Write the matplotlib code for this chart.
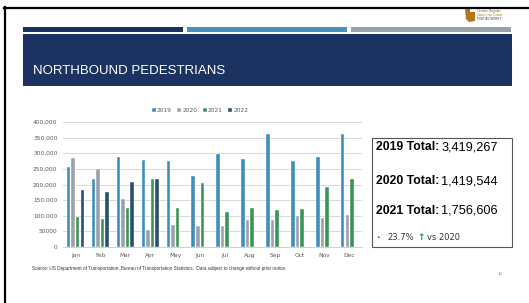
import matplotlib
matplotlib.use("Agg")
import matplotlib.pyplot as plt
from matplotlib.patches import Rectangle, Polygon
from matplotlib.lines import Line2D
import numpy as np

months = ["Jan", "Feb", "Mar", "Apr", "May", "Jun", "Jul", "Aug", "Sep", "Oct", "Nov", "Dec"]
years = ["2019", "2020", "2021", "2022"]
v2019 = [257000, 219000, 287000, 278000, 276000, 226000, 299000, 282000, 361000, 275000, 288000, 363000]
v2020 = [286000, 250000, 155000, 54000, 71000, 66000, 66000, 87000, 85000, 100000, 94000, 101000]
v2021 = [97000, 91000, 125000, 219000, 125000, 206000, 112000, 126000, 117000, 122000, 193000, 219000]
v2022 = [182000, 175000, 208000, 217000]
ytick_vals = [0, 50000, 100000, 150000, 200000, 250000, 300000, 350000, 400000]
ytick_labels = ["0", "50000", "100,000", "150,000", "200,000", "250,000", "300,000", "350,000", "400,000"]
totals = [("2019 Total:", "3,419,267"), ("2020 Total:", "1,419,544"), ("2021 Total:", "1,756,606")]

colors = ["#3d8dbd", "#9aa1a8", "#3a9358", "#284f6b"]

W, H = 529, 303
fig = plt.figure(figsize=(W / 100, H / 100), dpi=100)
fig.patch.set_facecolor("white")

def fx(x):
    return x / W

def fy(y):
    return 1 - y / H

# outer border
fig.add_artist(Line2D([fx(4.5), fx(4.5)], [fy(7), fy(303)], color="black", lw=1.6))
fig.add_artist(Line2D([fx(4), fx(529)], [fy(7.5), fy(7.5)], color="black", lw=1.6))

# stripes
stripes = [(22.7, 182.7, "#1c3260"), (186.7, 346.7, "#4a90b8"), (350.7, 510.7, "#9aa0a8")]
for x0, x1, c in stripes:
    fig.add_artist(Rectangle((fx(x0), fy(32)), fx(x1 - x0), 5 / H, color=c, lw=0))

# title band
fig.add_artist(Rectangle((fx(22.7), fy(86)), fx(511.7 - 22.7), (86 - 34.3) / H, color="#1c3260", lw=0))
fig.text(fx(33), fy(70.5), "NORTHBOUND PEDESTRIANS", color="white", fontsize=9.5,
         family="Liberation Sans", va="center", ha="left")

# logo
fig.add_artist(Polygon([[fx(465), fy(9)], [fx(470), fy(9)], [fx(470), fy(12)], [fx(475), fy(12)],
                        [fx(475), fy(21)], [fx(469), fy(22)], [fx(466), fy(19)]],
                       closed=True, color="#b8741a", lw=0))
fig.text(fx(477), fy(11), "Greater Nogales", fontsize=2.6, color="#555555", family="Liberation Serif", va="center")
fig.text(fx(477), fy(15), "Santa Cruz County", fontsize=2.4, color="#b8741a", family="Liberation Serif", va="center")
fig.text(fx(477), fy(19), "PORT AUTHORITY", fontsize=2.0, color="#333333", family="Liberation Sans", va="center")

# chart axes
ax_l, ax_r, ax_t, ax_b = 63, 362, 122, 247
ax = fig.add_axes([fx(ax_l), fy(ax_b), fx(ax_r - ax_l), (ax_b - ax_t) / H])
ax.set_facecolor("none")
x = np.arange(len(months))
pitch = 0.183
bw = 0.14
series = [v2019, v2020, v2021, v2022]
for i, (vals, c, lab) in enumerate(zip(series, colors, years)):
    xs = x[:len(vals)] + (i - 1.5) * pitch
    ax.bar(xs, vals, width=bw, color=c, edgecolor="white", linewidth=0.3, label=lab, zorder=3)

ax.set_xlim(-0.5, 11.5)
ax.set_ylim(0, 400000)
ax.set_yticks(ytick_vals)
ax.set_yticklabels(ytick_labels)
ax.set_xticks(x)
ax.set_xticklabels(months)
ax.tick_params(axis="both", length=0, labelsize=4.2, colors="#595959", pad=4)
ax.grid(axis="y", color="#d9d9d9", lw=0.7, zorder=0)
for s in ["top", "right", "left"]:
    ax.spines[s].set_visible(False)
ax.spines["bottom"].set_color("#d0d0d0")
ax.spines["bottom"].set_linewidth(0.7)

leg = fig.legend(loc="center", bbox_to_anchor=(fx(200), fy(110.7)), ncol=4, frameon=False,
                 fontsize=4.2, handlelength=0.7, handleheight=0.7, handletextpad=0.2,
                 columnspacing=0.9, labelcolor="#595959")

# totals box
fig.add_artist(Rectangle((fx(371.7), fy(247)), fx(511.7 - 371.7), (247 - 138.3) / H,
                         fill=False, edgecolor="#555555", lw=0.8))
ys = [147, 181, 210.5]
for (lab, val), yy in zip(totals, ys):
    t = fig.text(fx(375.5), fy(yy), lab, fontsize=8.8, weight="bold", family="Liberation Sans",
                 va="center", ha="left", color="black")
    fig.canvas.draw()
    bb = t.get_window_extent()
    fig.text(bb.x1 / W + fx(2.5), fy(yy), val, fontsize=9.2, family="Liberation Sans",
             va="center", ha="left", color="black")

fig.text(fx(376), fy(237.5), "•", fontsize=4.5, va="center", ha="left", color="#333333")
t1 = fig.text(fx(387.5), fy(237.5), "23.7%", fontsize=6.0, family="DejaVu Sans", va="center", ha="left", color="#333333")
fig.canvas.draw()
b1 = t1.get_window_extent()
t2 = fig.text(b1.x1 / W + fx(3), fy(237.5), "↑", fontsize=6.5, family="DejaVu Sans", weight="bold", va="center", ha="left", color="#00a050")
fig.canvas.draw()
b2 = t2.get_window_extent()
fig.text(b2.x1 / W + fx(2), fy(237.5), "vs 2020", fontsize=6.0, family="DejaVu Sans", va="center", ha="left", color="#333333")

# source
fig.text(fx(32), fy(268.5), "Source: US Department of Transportation, Bureau of Transportation Statistics.  Data subject to change without prior notice.",
         fontsize=3.3, family="Liberation Sans", va="center", ha="left", color="#333333")
fig.text(fx(498), fy(274), "10", fontsize=3.2, family="Liberation Sans", va="center", ha="left", color="#4a90b8")

fig.savefig("out.png", dpi=100, facecolor="white")
